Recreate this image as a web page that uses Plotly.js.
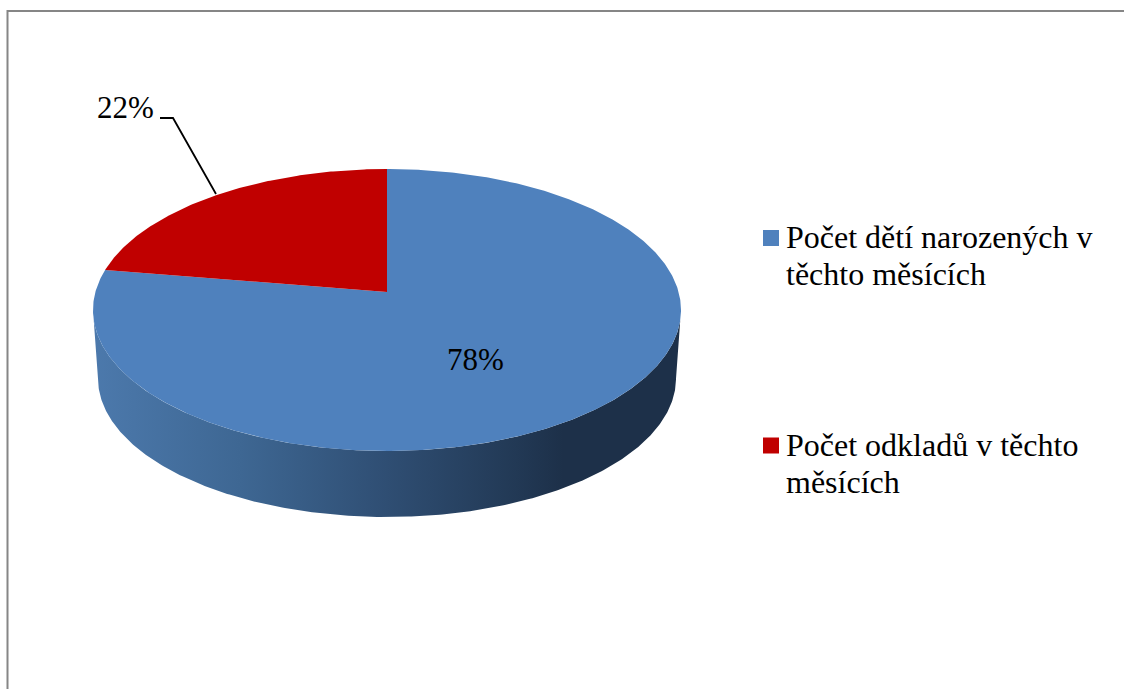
<!DOCTYPE html>
<html>
<head>
<meta charset="utf-8">
<script src="https://cdn.plot.ly/plotly-3.0.1.min.js"></script>
<style>html,body{margin:0;padding:0;background:#fff;overflow:hidden}</style>
</head>
<body>
<div id="chart" style="width:1124px;height:689px"></div>
<script>
// Data
const categoryLines = [["Počet dětí narozených v", "těchto měsících"], ["Počet odkladů v těchto", "měsících"]];
const values = [77.6, 22.4];
const colors = ["#4F81BD", "#C00000"];

// Pie geometry: projective view of a disc, in the axis units of the hidden axes
const CX = 387, APEX_Y = 292, A = 291.6, B = 138.7, K = 0.1277;
const DEPTH_SCALE = 289 / 294, DEPTH_APEX_Y = 360.7;
const STEPS = 720;

function project(angle, scale, apexY) {
  // angle: radians clockwise from the top of the disc
  const u = Math.sin(angle), v = Math.cos(angle), d = 1 + K * v;
  return [CX + scale * A * u / d, apexY - scale * B * v / d];
}
function arc(a0, a1, scale, apexY) {
  const n = Math.max(2, Math.round(Math.abs(a1 - a0) / (2 * Math.PI) * STEPS));
  const pts = [];
  for (let i = 0; i <= n; i++) pts.push(project(a0 + (a1 - a0) * i / n, scale, apexY));
  return pts;
}
function sectorTrace(a0, a1, color) {
  const pts = [[CX, APEX_Y]].concat(arc(a0, a1, 1, APEX_Y), [[CX, APEX_Y]]);
  return {
    x: pts.map(p => p[0]), y: pts.map(p => p[1]), mode: "lines", fill: "toself",
    fillcolor: color, line: {width: 0, color: color}, hoverinfo: "skip", showlegend: false
  };
}

const total = values.reduce((a, b) => a + b, 0);
const blueEnd = 2 * Math.PI * values[0] / total;

// Side wall: silhouette between lower half of top face and lower half of base
const widest = Math.PI / 2 + Math.asin(K);
const sidePts = arc(widest, 2 * Math.PI - widest, 1, APEX_Y)
  .concat(arc(2 * Math.PI - widest, widest, DEPTH_SCALE, DEPTH_APEX_Y));
sidePts.push(sidePts[0]);
const sideTrace = {
  x: sidePts.map(p => p[0]), y: sidePts.map(p => p[1]), mode: "lines", fill: "toself",
  line: {width: 0, color: "#2F4F73"}, hoverinfo: "skip", showlegend: false,
  fillcolor: "#2F4F73",
  fillgradient: {
    type: "horizontal",
    colorscale: [[0, "#4C79AC"], [0.25, "#3E6793"], [0.5, "#2F4E73"], [0.72, "#223955"], [0.8, "#1D3049"], [1, "#1D3049"]]
  }
};

const leader = {
  x: [160, 173, 216], y: [118, 118, 194], mode: "lines",
  line: {color: "#000", width: 1.8}, hoverinfo: "skip", showlegend: false
};

// Legend
const LEGEND_MARK_X = 771, LEGEND_TEXT_X = 786, LEGEND_Y = [238, 445.5], LINE_GAP = 37;
const legendMarks = {
  x: colors.map(() => LEGEND_MARK_X), y: LEGEND_Y, mode: "markers",
  marker: {symbol: "square", size: 16, color: colors, line: {width: 0}},
  hoverinfo: "skip", showlegend: false
};

const traces = [sideTrace, sectorTrace(0, blueEnd, colors[0]), sectorTrace(blueEnd, 2 * Math.PI, colors[1]), leader, legendMarks];

const fontFamily = '"Liberation Serif", "Times New Roman", serif';
const legendAnnotations = [];
categoryLines.forEach((lines, i) => lines.forEach((text, j) => {
  legendAnnotations.push({
    x: LEGEND_TEXT_X, y: LEGEND_Y[i] - 1 + j * LINE_GAP, xref: "x", yref: "y",
    xanchor: "left", yanchor: "middle", xshift: -1, text: text, showarrow: false,
    font: {family: fontFamily, size: 32, color: "#000"}, borderpad: 0
  });
}));

const layout = {
  width: 1124, height: 689,
  margin: {l: 0, r: 0, t: 0, b: 0},
  paper_bgcolor: "#fff", plot_bgcolor: "#fff",
  font: {family: fontFamily, size: 31, color: "#000"},
  xaxis: {range: [0, 1124], visible: false, fixedrange: true},
  yaxis: {range: [689, 0], visible: false, fixedrange: true},
  showlegend: false,
  annotations: [
    {x: 475, y: 359, xref: "x", yref: "y", text: Math.round(values[0]) + "%", showarrow: false},
    {x: 125, y: 107, xref: "x", yref: "y", text: Math.round(values[1]) + "%", showarrow: false}
  ].concat(legendAnnotations),
  shapes: [{
    type: "rect", xref: "x", yref: "y", x0: 7.5, x1: 1200, y0: 11, y1: 800,
    line: {color: "#868686", width: 2}, layer: "below"
  }]
};
Plotly.newPlot("chart", traces, layout, {displayModeBar: false, responsive: false});
</script>
</body>
</html>
